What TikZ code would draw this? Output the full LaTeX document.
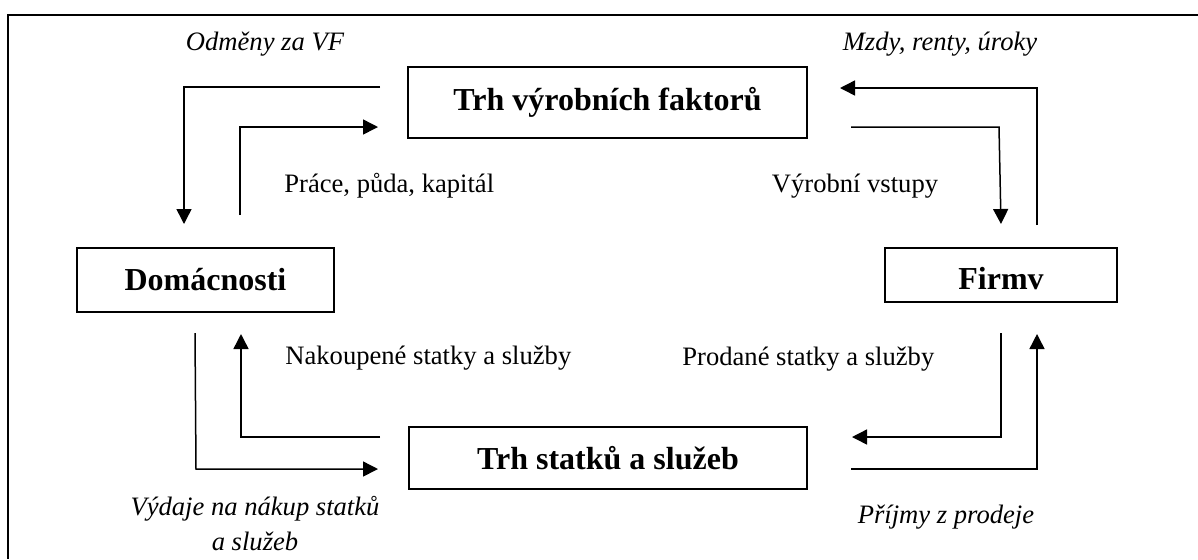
\documentclass[tikz,border=0pt]{standalone}
\usepackage{fontspec}
\setmainfont{Liberation Serif}
\usetikzlibrary{arrows.meta}
\begin{document}
\begin{tikzpicture}[x=0.5pt,y=-0.5pt,
  box/.style={draw,line width=1pt,inner sep=0pt,font=\fontsize{16}{19}\selectfont\bfseries},
  flow/.style={line width=0.75pt,-{Triangle[length=7.5pt,width=7.5pt]}},
  lab/.style={inner sep=0pt,font=\fontsize{13.3}{16}\selectfont},
  ilab/.style={inner sep=0pt,font=\fontsize{13.3}{17.5}\selectfont\itshape,align=center},
  frame/.style={line width=1pt}]
\useasboundingbox (0,0) rectangle (1198,559);
% outer frame
\coordinate (f1) at (1198,15);
\coordinate (f2) at (8,15);
\coordinate (f3) at (8,559);
\draw[frame] (f1) -- (f2) -- (f3);
% boxes
\node[box,minimum width=199.5pt,minimum height=35.5pt] (trhvf) at (607.5,102.5) {Trh výrobních faktorů};
\node[box,minimum width=128.5pt,minimum height=32pt] (dom) at (205.5,280) {Domácnosti};
\node[box,minimum width=116pt,minimum height=27pt,text height=14pt,text depth=0pt] (firmy) at (1001,275) {Firmv};
\node[box,minimum width=199pt,minimum height=31pt] (trhss) at (608,458) {Trh statků a služeb};
% endpoints
\coordinate (a1s) at (380,87);  \coordinate (a1c) at (184,87);  \coordinate (a1e) at (184,224);
\coordinate (a2s) at (240,215); \coordinate (a2c) at (240,127); \coordinate (a2e) at (378,127);
\coordinate (a3s) at (1037,225);\coordinate (a3c) at (1037,88); \coordinate (a3e) at (840,88);
\coordinate (a4s) at (851,127); \coordinate (a4c) at (999,127); \coordinate (a4e) at (1001,224);
\coordinate (a5s) at (195,333); \coordinate (a5c) at (196,469); \coordinate (a5e) at (378,469);
\coordinate (a6s) at (380,437); \coordinate (a6c) at (241,437); \coordinate (a6e) at (241,334);
\coordinate (a7s) at (1001,333);\coordinate (a7c) at (1001,437);\coordinate (a7e) at (852,437);
\coordinate (a8s) at (851,469); \coordinate (a8c) at (1037,469);\coordinate (a8e) at (1037,334);
\draw[flow] (a1s) -- (a1c) -- (a1e);
\draw[flow] (a2s) -- (a2c) -- (a2e);
\draw[flow] (a3s) -- (a3c) -- (a3e);
\draw[flow] (a4s) -- (a4c) -- (a4e);
\draw[flow] (a5s) -- (a5c) -- (a5e);
\draw[flow] (a6s) -- (a6c) -- (a6e);
\draw[flow] (a7s) -- (a7c) -- (a7e);
\draw[flow] (a8s) -- (a8c) -- (a8e);
% labels
\node[ilab] (l1) at (265,44) {Odměny za VF};
\node[ilab] (l2) at (940,44) {Mzdy, renty, úroky};
\node[lab,anchor=west] (l3) at (284,186) {Práce, půda, kapitál};
\node[lab] (l4) at (855,186) {Výrobní vstupy};
\node[lab,anchor=west] (l5) at (285,358) {Nakoupené statky a služby};
\node[lab,anchor=west] (l6) at (682,359) {Prodané statky a služby};
\node[ilab] (l7) at (255,524) {Výdaje na nákup statků\\a služeb};
\node[ilab] (l8) at (946,517) {Příjmy z prodeje};
\end{tikzpicture}
\end{document}
